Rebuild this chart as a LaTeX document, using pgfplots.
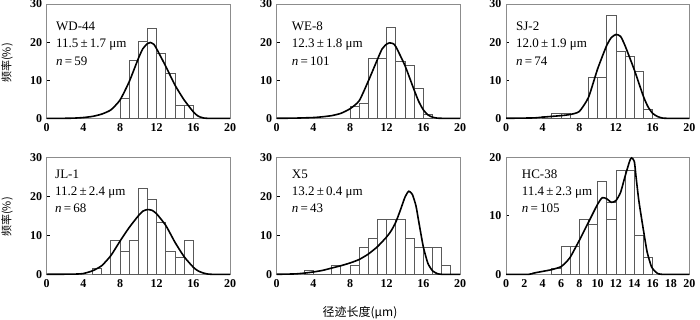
\documentclass[border=0pt]{standalone}
\usepackage{fontspec}
\setmainfont{Liberation Serif}
\newfontfamily\cjk{Noto Sans CJK SC}
\usepackage{pgfplots}
\pgfplotsset{compat=1.18}
\pgfplotsset{
 panel/.style={
   scale only axis, width=183.3pt, anchor=south west,
   xmin=0, xmax=20, ymin=0, ymax=30,
   xtick={0,4,...,20}, ytick={0,10,20,30},
   axis line style={draw=black!45, line width=0.9pt},
   ytick pos=left, xtick pos=bottom,
   xtick style={draw=none},
   ytick style={draw=black, line width=0.7pt},
   tick align=inside, major tick length=3pt,
   ticklabel style={font=\fontsize{12}{12}\selectfont\bfseries},
   xticklabel style={yshift=-2pt},
   yticklabel style={xshift=-1pt},
   /pgf/number format/assume math mode=true,
   clip=false,
 },
 bars/.style={ybar interval, fill=white, draw=black!65, line width=0.9pt},
 fit/.style={black, line width=1.6pt, smooth, tension=0.35, mark=none},
}
\tikzset{ann/.style={anchor=west, font=\fontsize{13}{14}\selectfont, inner sep=0pt}}
\begin{document}
\begin{tikzpicture}
\path[use as bounding box] (0,0) rectangle (700pt,319pt);

% ---------- WD-44 ----------
\begin{axis}[panel, at={(46.7pt,200.7pt)}, height=114.3pt]
\addplot[bars] coordinates {(8,5.1)(9,15.3)(10,20.3)(11,23.7)(12,16.9)(13,11.9)(14,3.4)(15,3.4)(16,0)};
\addplot[fit] coordinates {(0,0)(2,0)(3,0.05)(4,0.2)(5,0.5)(6,1.1)(7,2.2)(8,4.8)(9,9.6)(10,15.7)(10.5,18.3)(11,19.6)(11.3,19.9)(11.7,19.4)(12,18.2)(13,13.6)(14,8.7)(15,4.8)(16,1.7)(16.5,0.6)(17,0.15)(17.5,0)(20,0)};
\node[ann] at ([xshift=9.3pt]rel axis cs:0,0.808) {WD-44};
\node[ann] at ([xshift=9.3pt]rel axis cs:0,0.641) {11.5\,±\,1.7\ μm};
\node[ann] at ([xshift=9.3pt]rel axis cs:0,0.501) {\textit{n}\,=\,59};
\end{axis}

% ---------- WE-8 ----------
\begin{axis}[panel, at={(276.7pt,200.7pt)}, height=114.3pt]
\addplot[bars] coordinates {(8,3.0)(9,4.0)(10,15.8)(11,15.8)(12,23.8)(13,14.9)(14,13.9)(15,7.9)(16,1.0)(17,0)};
\addplot[fit] coordinates {(0,0)(2,0.05)(4,0.2)(5,0.4)(6,0.7)(7,1.3)(8,2.5)(9,4.6)(10,9.8)(11,15.5)(11.5,18.2)(12,19.5)(12.3,19.8)(12.7,19.6)(13,18.8)(14,13.8)(15,7.4)(15.5,4.4)(16,2.2)(16.5,0.9)(17,0.3)(17.5,0.05)(18,0)(20,0)};
\node[ann] at ([xshift=15pt]rel axis cs:0,0.808) {WE-8};
\node[ann] at ([xshift=15pt]rel axis cs:0,0.641) {12.3\,±\,1.8\ μm};
\node[ann] at ([xshift=15pt]rel axis cs:0,0.501) {\textit{n}\,=\,101};
\end{axis}

% ---------- SJ-2 ----------
\begin{axis}[panel, at={(506pt,200.7pt)}, height=114.3pt]
\addplot[bars] coordinates {(4,0.5)(5,1.2)(6,1.2)(7,0)(8,0)(9,10.8)(10,10.8)(11,27.0)(12,17.6)(13,16.2)(14,12.2)(15,2.4)(16,0)};
\addplot[fit] coordinates {(0,0)(3,0.1)(4,0.3)(5,0.5)(6,0.7)(7,1.0)(8,1.8)(9,5.5)(10,13.0)(11,19.2)(11.5,21.2)(12,22.0)(12.5,21.5)(13,19.0)(14,12.7)(15,5.7)(15.5,3.0)(16,1.3)(16.5,0.5)(17,0.1)(17.5,0)(20,0)};
\node[ann] at ([xshift=10pt]rel axis cs:0,0.808) {SJ-2};
\node[ann] at ([xshift=10pt]rel axis cs:0,0.641) {12.0\,±\,1.9\ μm};
\node[ann] at ([xshift=10pt]rel axis cs:0,0.501) {\textit{n}\,=\,74};
\end{axis}

% ---------- JL-1 ----------
\begin{axis}[panel, at={(46.7pt,44.7pt)}, height=117pt]
\addplot[bars] coordinates {(5,1.5)(6,0)(7,8.8)(8,5.9)(9,8.8)(10,22.1)(11,19.1)(12,13.2)(13,5.9)(14,4.4)(15,8.8)(16,0)};
\addplot[fit] coordinates {(0,0)(3,0.05)(4,0.2)(5,0.9)(6,2.2)(7,4.8)(8,8.5)(9,12.0)(10,15.0)(10.5,16.2)(11,16.6)(11.5,16.4)(12,15.5)(13,12.5)(14,8.2)(15,4.5)(16,1.8)(16.5,0.9)(17,0.4)(17.5,0.1)(18,0)(20,0)};
\node[ann] at ([xshift=8.3pt]rel axis cs:0,0.855) {JL-1};
\node[ann] at ([xshift=8.3pt]rel axis cs:0,0.697) {11.2\,±\,2.4\ μm};
\node[ann] at ([xshift=8.3pt]rel axis cs:0,0.564) {\textit{n}\,=\,68};
\end{axis}

% ---------- X5 ----------
\begin{axis}[panel, at={(276.7pt,44.7pt)}, height=117pt]
\addplot[bars] coordinates {(3,1.0)(4,0)(5,0)(6,2.3)(7,0)(8,2.3)(9,7.0)(10,9.3)(11,14.0)(12,14.0)(13,14.0)(14,9.3)(15,7.0)(16,7.0)(17,7.0)(18,2.3)(19,0)};
\addplot[fit] coordinates {(0,0)(2,0.1)(3,0.3)(4,0.6)(5,1.0)(6,1.6)(7,2.2)(8,2.9)(9,3.8)(10,5.2)(11,7.1)(12,9.6)(12.5,11.2)(13,13.4)(13.5,16.5)(14,19.8)(14.4,21.3)(14.8,20.5)(15.2,17.5)(15.5,13.5)(16,7)(16.5,2.8)(17,0.9)(17.5,0.2)(18,0)(20,0)};
\node[ann] at ([xshift=15pt]rel axis cs:0,0.855) {X5};
\node[ann] at ([xshift=15pt]rel axis cs:0,0.697) {13.2\,±\,0.4\ μm};
\node[ann] at ([xshift=15pt]rel axis cs:0,0.564) {\textit{n}\,=\,43};
\end{axis}

% ---------- HC-38 ----------
\begin{axis}[panel, at={(506pt,44.7pt)}, height=117pt, ymax=20, ytick={0,10,20}, xtick={0,2,...,20}]
\addplot[bars] coordinates {(5,1.0)(6,4.8)(7,4.8)(8,9.4)(9,8.6)(10,15.8)(11,12.3)(12,17.7)(13,17.7)(14,6.6)(15,2.8)(16,0)};
\addplot[bars] coordinates {(11,9.4)(12,9.4)};
\addplot[fit] coordinates {(0,0)(2.5,0)(3,0.2)(4,0.5)(5,0.8)(6,1.3)(6.5,2.0)(7,2.9)(8,5.8)(9,8.9)(10,12.0)(10.5,13.1)(11,12.9)(11.5,12.3)(12,12.6)(12.5,14.0)(13,16.8)(13.5,19.4)(13.7,19.9)(14,19.3)(14.2,16.5)(14.5,12.5)(15,7.5)(15.4,3.8)(15.9,1.2)(16.5,0.2)(17,0)(20,0)};
\node[ann] at ([xshift=15.7pt]rel axis cs:0,0.855) {HC-38};
\node[ann] at ([xshift=15.7pt]rel axis cs:0,0.697) {11.4\,±\,2.3\ μm};
\node[ann] at ([xshift=15.7pt]rel axis cs:0,0.564) {\textit{n}\,=\,105};
\end{axis}

% ---------- shared labels ----------
\node[rotate=90, font=\cjk\fontsize{11}{12}\selectfont] at (7pt,256pt) {频率(\%)};
\node[rotate=90, font=\cjk\fontsize{11}{12}\selectfont] at (7pt,102pt) {频率(\%)};
\node[font=\cjk\fontsize{12}{13}\selectfont] at (360pt,6pt) {径迹长度(μm)};
\end{tikzpicture}
\end{document}
